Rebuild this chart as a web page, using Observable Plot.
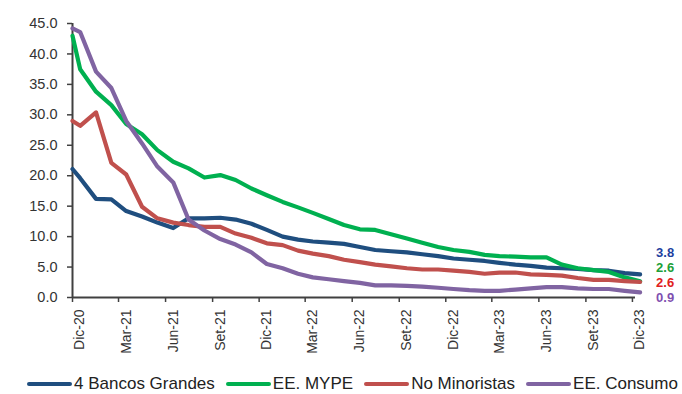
<!DOCTYPE html>
<html>
<head>
<meta charset="utf-8">
<script src="https://cdn.jsdelivr.net/npm/d3@7"></script>
<script src="https://cdn.jsdelivr.net/npm/@observablehq/plot@0.6"></script>
<style>
  html, body { margin: 0; padding: 0; background: #fff; }
  #wrap { width: 682px; height: 394px; position: relative; overflow: hidden; font-family: "Liberation Sans", Arial, sans-serif; }
  #legend { position: absolute; left: 27px; top: 374px; display: flex; align-items: center; font-size: 17px; color: #222; white-space: nowrap; }
  #legend .item { display: flex; align-items: center; margin-right: 11px; }
  #legend .sw { display: inline-block; width: 45px; height: 4.5px; border-radius: 2px; margin-right: 2px; }
</style>
</head>
<body>
<div id="wrap"><div id="chart"></div><div id="legend"></div></div>
<script>
// x positions: axis start, then one point per month (Dic-20 ... Dic-23)
const dates = ["2020-12-01","2020-12-16","2021-01-16","2021-02-15","2021-03-16","2021-04-16","2021-05-16","2021-06-16","2021-07-16","2021-08-16","2021-09-16","2021-10-16","2021-11-16","2021-12-16","2022-01-16","2022-02-15","2022-03-16","2022-04-16","2022-05-16","2022-06-16","2022-07-16","2022-08-16","2022-09-16","2022-10-16","2022-11-16","2022-12-16","2023-01-16","2023-02-15","2023-03-16","2023-04-16","2023-05-16","2023-06-16","2023-07-16","2023-08-16","2023-09-16","2023-10-16","2023-11-16","2023-12-16"];

const bancosGrandes = [21.1, 19.6, 16.2, 16.1, 14.2, 13.3, 12.3, 11.4, 13.0, 13.0, 13.1, 12.8, 12.1, 11.1, 10.0, 9.5, 9.2, 9.0, 8.8, 8.3, 7.8, 7.6, 7.4, 7.1, 6.8, 6.4, 6.2, 6.0, 5.7, 5.4, 5.2, 4.9, 4.8, 4.7, 4.5, 4.4, 4.0, 3.8];
const eeMype      = [43.0, 37.5, 33.8, 31.6, 28.5, 26.8, 24.2, 22.3, 21.2, 19.7, 20.1, 19.3, 17.9, 16.8, 15.7, 14.8, 13.9, 12.9, 11.9, 11.2, 11.1, 10.4, 9.7, 9.0, 8.3, 7.8, 7.5, 7.0, 6.8, 6.7, 6.6, 6.6, 5.4, 4.8, 4.5, 4.2, 3.3, 2.65];
const noMinoristas = [29.0, 28.2, 30.4, 22.1, 20.2, 14.9, 13.0, 12.3, 11.9, 11.6, 11.6, 10.5, 9.8, 8.9, 8.6, 7.7, 7.2, 6.8, 6.2, 5.8, 5.4, 5.1, 4.8, 4.6, 4.6, 4.4, 4.2, 3.9, 4.1, 4.1, 3.8, 3.7, 3.6, 3.2, 2.9, 2.9, 2.7, 2.55];
const eeConsumo   = [44.2, 43.6, 37.1, 34.4, 29.0, 25.3, 21.5, 18.9, 12.8, 11.0, 9.6, 8.7, 7.4, 5.5, 4.8, 3.9, 3.3, 3.0, 2.7, 2.4, 2.0, 2.0, 1.9, 1.8, 1.6, 1.4, 1.2, 1.1, 1.1, 1.3, 1.5, 1.7, 1.7, 1.5, 1.4, 1.4, 1.1, 0.85];

const seriesNames  = ["4 Bancos Grandes", "EE. MYPE", "No Minoristas", "EE. Consumo"];
const seriesValues = [bancosGrandes, eeMype, noMinoristas, eeConsumo];
const lineColors   = ["#1F4E7F", "#00B050", "#C0504D", "#8064A2"];
const labelColors  = ["#1F3F9F", "#20A038", "#E02020", "#7F50B0"];
const endLabels    = ["3.8", "2.6", "2.6", "0.9"];

const yTicks = [0, 5, 10, 15, 20, 25, 30, 35, 40, 45];
const xTickDates  = ["2020-12-01","2021-03-01","2021-06-01","2021-09-01","2021-12-01","2022-03-01","2022-06-01","2022-09-01","2022-12-01","2023-03-01","2023-06-01","2023-09-01","2023-12-01"];
const xTickLabels = ["Dic-20","Mar-21","Jun-21","Set-21","Dic-21","Mar-22","Jun-22","Set-22","Dic-22","Mar-23","Jun-23","Set-23","Dic-23"];

const W = 682, H = 362, mT = 23, mB = 65, mL = 72, mR = 47;
const xDomain = [new Date("2020-12-01"), new Date("2023-12-07")];

const rows = [];
seriesNames.forEach((name, s) => {
  seriesValues[s].forEach((v, i) => rows.push({date: new Date(dates[i]), value: v, series: name}));
});
const tickDates = xTickDates.map(d => new Date(d));
const labelOf = new Map(tickDates.map((d, i) => [+d, xTickLabels[i]]));

// end labels: stacked upward from the baseline, ordered by last value
const yPix = d3.scaleLinear([0, 45], [H - mB, mT]);
const last = seriesNames.map((name, s) => ({s, name, value: seriesValues[s][seriesValues[s].length - 1]}));
const order = [...last].sort((a, b) => a.value - b.value);
order.forEach((d, r) => { d.target = (H - mB) + 0.5 - 15 * r; d.dy = d.target - yPix(d.value); });
const lastDate = new Date(dates[dates.length - 1]);

const marks = [
  Plot.ruleY([0], {stroke: "#404040", strokeWidth: 2}),
  Plot.ruleX([xDomain[0]], {stroke: "#404040", strokeWidth: 2}),
  Plot.axisY({ticks: yTicks, tickFormat: d => d.toFixed(1), tickSize: 5, tickPadding: 10, fontSize: 14.5, stroke: "#404040", strokeWidth: 1.5, fill: "#333", label: null}),
  Plot.axisX({ticks: tickDates, tickSize: 5, tickFormat: () => "", stroke: "#404040", strokeWidth: 1.5, label: null}),
  Plot.axisX({ticks: tickDates, tickSize: 0, tickPadding: 12, tickRotate: -90, dx: 7.5, fontSize: 14, fill: "#333", tickFormat: d => labelOf.get(+d), label: null}),
  ...seriesNames.map((name, s) => Plot.line(rows.filter(r => r.series === name), {
    x: "date", y: "value", stroke: lineColors[s], strokeWidth: 4.2, strokeLinejoin: "round", strokeLinecap: "round"
  })),
  ...order.map(d => Plot.text([d], {
    x: () => lastDate, y: "value", text: () => endLabels[d.s], fill: labelColors[d.s],
    dx: 16, dy: d.dy, textAnchor: "start", fontSize: 13, fontWeight: "bold"
  }))
];

const chart = Plot.plot({
  width: W, height: H,
  marginTop: mT, marginBottom: mB, marginLeft: mL, marginRight: mR,
  style: {fontFamily: "'Liberation Sans', Arial, sans-serif", background: "#fff", overflow: "visible"},
  x: {type: "utc", domain: xDomain},
  y: {domain: [0, 45]},
  marks
});
document.getElementById("chart").appendChild(chart);

const legend = document.getElementById("legend");
seriesNames.forEach((name, s) => {
  const it = document.createElement("div");
  it.className = "item";
  const sw = document.createElement("span");
  sw.className = "sw";
  sw.style.background = lineColors[s];
  const tx = document.createElement("span");
  tx.textContent = name;
  it.appendChild(sw); it.appendChild(tx);
  legend.appendChild(it);
});
</script>
</body>
</html>
